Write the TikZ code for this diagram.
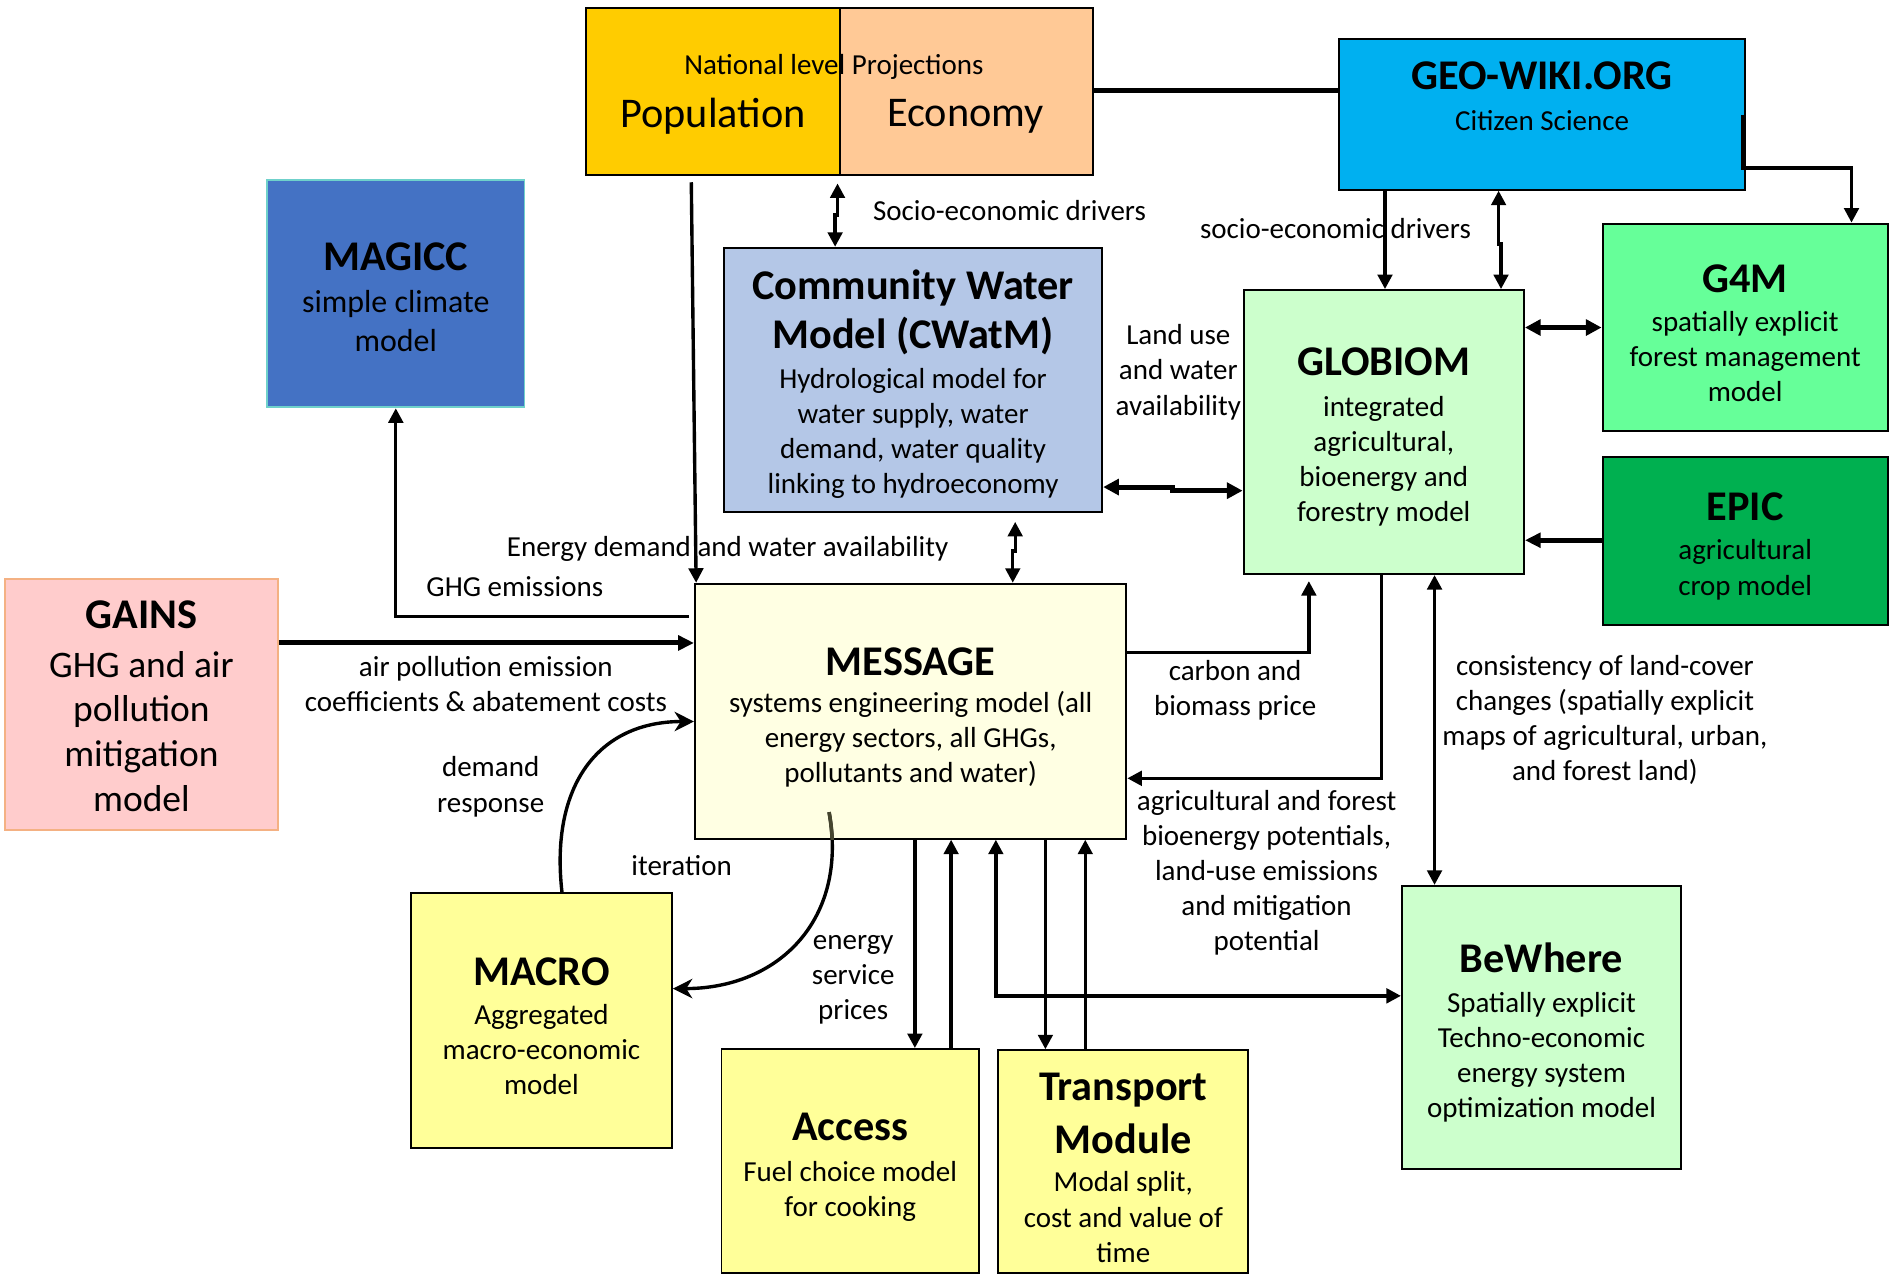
\documentclass[tikz,border=0pt]{standalone}
\usepackage{fontspec}
\setmainfont{Carlito}
\usetikzlibrary{arrows.meta,fit,calc}
\newcommand{\myfs}[2]{\fontsize{#1}{#2}\selectfont\lineskiplimit=-\maxdimen}
\newcommand{\ttl}{\bfseries\fontsize{17.5}{20}\selectfont}
\definecolor{popc}{HTML}{FFCC00}
\definecolor{econc}{HTML}{FFC996}
\definecolor{geoc}{HTML}{00B0F0}
\definecolor{magc}{HTML}{4472C4}
\definecolor{magb}{HTML}{6FD1CB}
\definecolor{cwatc}{HTML}{B4C7E7}
\definecolor{globc}{HTML}{CCFFCC}
\definecolor{gfmc}{HTML}{66FF99}
\definecolor{epicc}{HTML}{00B050}
\definecolor{gainc}{HTML}{FFCCCC}
\definecolor{gainb}{HTML}{F4B183}
\definecolor{msgc}{HTML}{FFFFE3}
\definecolor{yelc}{HTML}{FFFF99}
\definecolor{olivec}{HTML}{45452E}
\begin{document}
\begin{tikzpicture}[x=0.5pt,y=-0.5pt,
  box/.style={draw=black, line width=0.8pt, inner sep=0pt},
  lbl/.style={inner sep=0pt, align=center, font={\myfs{12}{14.5}}},
  conn/.style={line width=1.4pt, -{Triangle[length=6pt,width=6pt]}},
  dconn/.style={line width=1.4pt, {Triangle[length=6pt,width=6pt]}-{Triangle[length=6pt,width=6pt]}},
  thk/.style={line width=2.1pt, -{Triangle[length=6.5pt,width=6pt]}},
  dthk/.style={line width=2.1pt, {Triangle[length=6.5pt,width=6.5pt]}-{Triangle[length=6.5pt,width=6.5pt]}},
  crv/.style={line width=1.4pt, -{Stealth[length=8pt,width=8pt,inset=2.5pt]}},
]
\useasboundingbox (0,0) rectangle (1568,1055);
\fill[white] (0,0) rectangle (1568,1055);

% ---- boxes
\node[box, fill=popc, fit={(485,7) (695,145)}] (pop) {};
\node[box, fill=econc, fit={(695,7) (904,145)}] (econ) {};
\node[lbl, font={\myfs{12}{14}}] (natl) at (690,55) {National level Projections};
\node[lbl, font={\myfs{17.5}{20}}] (poptxt) at (590,96) {Population};
\node[lbl, font={\myfs{17.5}{20}}] (econtxt) at (799,96) {Economy};

\node[box, fill=geoc, fit={(1108,32) (1444,157)}] (geo) {};
\node[lbl, font={\myfs{12}{17}}] (geotxt) at (1276,80) {{\ttl GEO-WIKI.ORG}\\Citizen Science};

\node[box, fill=magc, draw=magb, fit={(221,149) (434,337)}] (magicc) {};
\node[lbl, font={\myfs{13.2}{16}}] (magtxt) at (327.5,246)
  {{\ttl MAGICC}\\[1.5pt]simple climate\\model};

\node[box, fill=cwatc, fit={(599,205) (912,424)}] (cwatm) {};
\node[lbl] (cwattxt) at (755.5,318)
  {{\ttl Community Water}\\[6pt]{\ttl Model (CWatM)}\\[2pt]Hydrological model for\\water supply, water\\demand, water quality\\linking to hydroeconomy};

\node[box, fill=globc, fit={(1029,240) (1261,475)}] (globiom) {};
\node[lbl] (globtxt) at (1145,361.5)
  {{\ttl GLOBIOM}\\[2.5pt]integrated\\agricultural,\\bioenergy and\\forestry model};

\node[box, fill=gfmc, fit={(1326,185) (1562,357)}] (g4m) {};
\node[lbl] (g4mtxt) at (1444,275.5)
  {{\ttl G4M}\\[1.5pt]spatially explicit\\forest management\\model};

\node[box, fill=epicc, fit={(1326,378) (1562,517)}] (epic) {};
\node[lbl, font={\myfs{12}{15}}] (epictxt) at (1444,452.5)
  {{\ttl EPIC}\\[1pt]agricultural\\crop model};

\node[box, fill=gainc, draw=gainb, fit={(4,479) (230,687)}] (gains) {};
\node[lbl, font={\myfs{15.5}{18.5}}] (gaintxt) at (117,584.5)
  {{\ttl GAINS}\\[1.5pt]GHG and air\\pollution\\mitigation\\model};

\node[box, fill=msgc, fit={(575,483) (932,694)}] (message) {};
\node[lbl] (msgtxt) at (753.5,593.5)
  {{\ttl MESSAGE}\\[1pt]systems engineering model (all\\energy sectors, all GHGs,\\pollutants and water)};

\node[box, fill=yelc, fit={(340,739) (556,950)}] (macro) {};
\node[lbl] (macrotxt) at (448,849)
  {{\ttl MACRO}\\[1.5pt]Aggregated\\macro-economic\\model};

\node[box, fill=yelc, fit={(597,868) (810,1053)}] (access) {};
\node[lbl] (accesstxt) at (703.5,965.5)
  {{\ttl Access}\\[2.5pt]Fuel choice model\\for cooking};

\node[box, fill=yelc, fit={(826,869) (1033,1053)}] (transport) {};
\node[lbl] (transtxt) at (929.5,966)
  {{\ttl Transport}\\[7.5pt]{\ttl Module}\\[1.5pt]Modal split,\\cost and value of\\time};

\node[box, fill=globc, fit={(1160,733) (1391,967)}] (bewhere) {};
\node[lbl] (bewtxt) at (1275.5,854.5)
  {{\ttl BeWhere}\\[2pt]Spatially explicit\\Techno-economic\\energy system\\optimization model};

% ---- connectors
\draw[line width=2.1pt] (econ.east |- 0,75) -- (geo.west |- 0,75);
\coordinate (geoR) at (1442,95);
\draw[conn] (geoR) -- (1442,139) -- (1532,139) -- (1532,0 |- g4m.north);
\draw[conn] (1146,0 |- geo.south) -- (1146,0 |- globiom.north);
\draw[dconn] (1240,0 |- geo.south) -- (1240,202) -- (1242,202) -- (1242,0 |- globiom.north);
\node[lbl] (sed2) at (1105,189) {socio-economic drivers};

\draw[dconn] ($(693,0 |- pop.south)+(0,6)$) -- (693,178) -- (691,178) -- (691,0 |- cwatm.north);
\node[lbl, anchor=west] (sed1) at (722,174) {Socio-economic drivers};

\draw[conn] ($(572,0 |- pop.south)+(0,5)$) -- (576,0 |- message.north);
\node[lbl] (edw) at (602,454) {Energy demand and water availability};

\draw[conn] ($(message.west |- 0,510)+(-4,0)$) -| (magicc.south);
\node[lbl] (ghg) at (426,485) {GHG emissions};

\draw[dconn] ($(840,0 |- cwatm.south)+(0,7)$) -- (840,456) -- (838,456) -- (838,0 |- message.north);

\draw[dthk] (cwatm.east |- 0,403) -- (970,403) -- (970,406) -- (globiom.west |- 0,406);
\node[lbl] (luw) at (975,308) {Land use\\and water\\availability};

\draw[dthk] (globiom.east |- 0,271) -- (g4m.west |- 0,271);
\draw[thk] (epic.west |- 0,447) -- (globiom.east |- 0,447);

\draw[thk] (gains.east |- 0,532) -- (message.west |- 0,532);
\node[lbl] (ape) at (402,566) {air pollution emission\\coefficients \& abatement costs};

\draw[conn] (message.east |- 0,540) -| ($(1083,0 |- globiom.south)+(0,5)$);
\node[lbl] (cbp) at (1022,571) {carbon and\\biomass price};

\draw[conn] (1143,0 |- globiom.south) |- (message.east |- 0,644);
\node[lbl] (afb) at (1048,722) {agricultural and forest\\bioenergy potentials,\\land-use emissions\\and mitigation\\potential};

\draw[dconn] (1187,0 |- globiom.south) -- (1187,0 |- bewhere.north);
\node[lbl] (clc) at (1328,596) {consistency of land-cover\\changes (spatially explicit\\maps of agricultural, urban,\\and forest land)};

\draw[dconn] (824,0 |- message.south) |- (bewhere.west |- 0,824);

\draw[conn] (757,0 |- message.south) -- (757,0 |- access.north);
\draw[conn] (787,0 |- access.north) -- (787,0 |- message.south);
\draw[conn] (865,0 |- message.south) -- (865,0 |- transport.north);
\draw[conn] (898,0 |- transport.north) -- (898,0 |- message.south);

\coordinate (itS) at (686,672);
\draw[crv] (465,0 |- macro.north) .. controls (455,650) and (495,597) .. (message.west |- 0,597);
\draw[crv] (itS) .. controls (702,760) and (645,818) .. (macro.east |- 0,818);
\begin{scope}
  \clip (message.south west) rectangle (message.north east);
  \draw[line width=1.5pt, draw=olivec] (itS) .. controls (702,760) and (645,818) .. (macro.east |- 0,818);
\end{scope}
\node[lbl] (dr) at (406,651) {demand\\response};
\node[lbl] (iter) at (564,716) {iteration};
\node[lbl] (esp) at (706,811) {energy\\service\\prices};
\end{tikzpicture}
\end{document}
